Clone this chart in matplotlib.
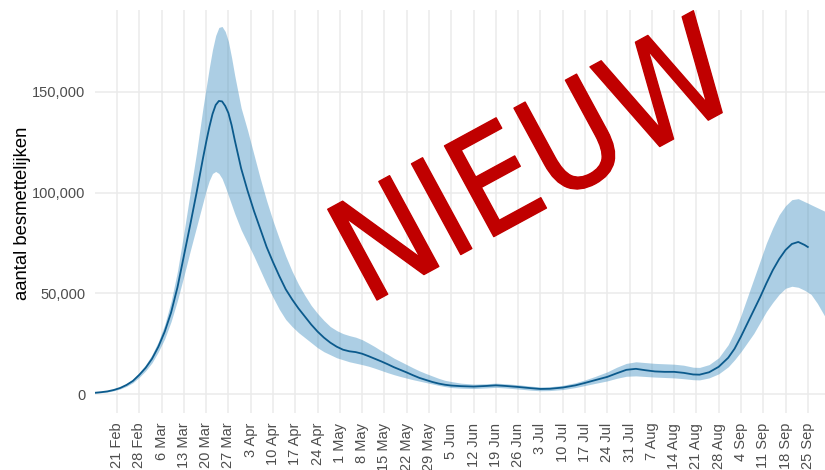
import numpy as np
import pandas as pd
import matplotlib
matplotlib.use("Agg")
import matplotlib.pyplot as plt
import matplotlib.dates as mdates
import matplotlib.patheffects as pe

nan = np.nan

# ---- data ----
dates = (
    ["2020-02-%02d" % d for d in [14, 16, 18, 20, 22, 24, 26, 28]]
    + ["2020-03-%02d" % d for d in [1, 3, 5, 7, 9, 11, 13, 15, 17, 19, 20, 21, 22, 23,
                                     24, 25, 26, 27, 28, 29, 31]]
    + ["2020-04-%02d" % d for d in [2, 4, 6, 8, 10, 12, 14, 16, 18, 20, 22, 24, 26, 28, 30]]
    + ["2020-05-%02d" % d for d in [2, 4, 6, 8, 10, 12, 14, 16, 18, 20, 22, 24, 26, 28, 30]]
    + ["2020-06-%02d" % d for d in [1, 3, 5, 8, 12, 16, 19, 22, 26, 30]]
    + ["2020-07-%02d" % d for d in [3, 6, 10, 14, 17, 20, 24, 27, 30]]
    + ["2020-08-%02d" % d for d in [2, 5, 8, 11, 14, 17, 20, 22, 25, 28, 31]]
    + ["2020-09-%02d" % d for d in [2, 4, 6, 8, 10, 12, 14, 16, 18, 20, 22, 24, 25, 26, 28, 30]]
    + ["2020-10-02"]
)

estimate = [
    600, 900, 1300, 2000, 3000, 4500, 6500, 9500,
    13000, 17500, 23500, 31000, 40500, 53000, 68500, 84000, 100000, 117000, 125000,
    132500, 139000, 143500, 145500, 145300, 143000, 139500, 133500, 126000, 112000,
    101000, 91000, 82000, 73000, 65500, 58500, 52000, 47000, 42500, 38500, 34500,
    31000, 28000, 25500, 23500,
    22000, 21200, 20800, 20000, 18800, 17500, 16200, 14800, 13300, 12000, 10700,
    9300, 8000, 7000, 6000,
    5200, 4600, 4200, 3900, 3700, 4000, 4300, 4000, 3500, 2900,
    2500, 2600, 3200, 4300, 5500, 6800, 8500, 10300, 12000,
    12500, 11800, 11200, 11000, 11000, 10500, 9700, 9600, 10800, 13500, 18000,
    22500, 28500, 35000, 41500, 48000, 55000, 61500, 67000, 71500, 74500, 75500,
    74000, 73000, nan, nan, nan,
    nan,
]

lower = [
    400, 650, 1000, 1600, 2500, 3800, 5600, 8300,
    11500, 15500, 21000, 27500, 36000, 46500, 58500, 71000, 83000, 95000, 101000,
    106000, 109500, 110500, 109500, 107000, 103000, 98500, 94000, 89500, 81500,
    75000, 68500, 61500, 54500, 48000, 42000, 37000, 33500, 30500, 28000, 25500,
    23000, 21000, 19500, 18000,
    17000, 16000, 15300, 14600, 13800, 12800, 11700, 10600, 9600, 8700, 7900,
    7100, 6400, 5700, 5000,
    4300, 3700, 3200, 2900, 2700, 3000, 3300, 3000, 2500, 1900,
    1600, 1700, 2200, 3200, 4200, 5200, 6500, 7800, 8800,
    9000, 8700, 8400, 8200, 8000, 7600, 7100, 7000, 8000, 10000, 13500,
    17000, 21000, 25500, 30000, 35500, 41000, 45500, 49500, 52500, 53500, 53000,
    51500, 50500, 49500, 45000, 39500,
    34000,
]

upper = [
    800, 1150, 1600, 2400, 3500, 5200, 7400, 10700,
    14500, 19500, 26000, 34500, 46000, 61000, 80000, 100000, 120000, 142000, 152000,
    162000, 171000, 178000, 182000, 182500, 180000, 175000, 167000, 158000, 142000,
    131000, 119000, 107000, 96000, 86000, 77000, 68500, 61000, 54500, 49000, 44000,
    40000, 36500, 33500, 31500,
    30000, 29000, 28200, 27000, 25300, 23500, 21500, 19700, 17800, 16200, 14600,
    13000, 11500, 10200, 9000,
    7800, 6800, 6200, 5400, 4900, 5100, 5400, 5100, 4600, 3900,
    3500, 3600, 4300, 5600, 7000, 8600, 11000, 13300, 15200,
    16000, 15600, 15200, 15000, 14800, 14300, 13300, 13200, 14600, 18000, 24500,
    31000, 39000, 48000, 57000, 66000, 75000, 82500, 89000, 93500, 96500, 97000,
    95500, 94800, 94000, 92500, 91000,
    89500,
]

y_ticks = [0, 50000, 100000, 150000]
y_tick_labels = ["0", "50,000", "100,000", "150,000"]
tick_dates = pd.date_range("2020-02-21", "2020-09-25", freq="7D")
tick_labels = [f"{d.day} {d.strftime('%b')}" for d in tick_dates]
y_label = "aantal besmettelijken"
stamp = "NIEUW"

# ---- figure ----
plt.rcParams['font.family'] = ['Liberation Sans', 'DejaVu Sans']
W, H = 825, 470
fig = plt.figure(figsize=(W / 100, H / 100), dpi=100)
ax = fig.add_axes([95 / W, 57 / H, 730 / W, 403 / H])

x = pd.to_datetime(dates)
ax.fill_between(x, lower, upper, color="#3a8cbf", alpha=0.42, linewidth=0, zorder=2)
ax.plot(x, estimate, color="#0b5a8c", linewidth=1.3, zorder=3)

x0 = mdates.date2num(pd.Timestamp("2020-02-21")) - 6.91
x1 = mdates.date2num(pd.Timestamp("2020-02-21")) + 222.4
ax.set_xlim(x0, x1)
ax.set_ylim(-9434, 190670)

ax.set_xticks(tick_dates)
ax.set_xticklabels(tick_labels, rotation=90, fontsize=10.5, color="#4d4d4d")
ax.set_yticks(y_ticks)
ax.set_yticklabels(y_tick_labels, fontsize=10.5, color="#4d4d4d")
ax.tick_params(axis="both", length=0)
ax.tick_params(axis="x", pad=7)
ax.tick_params(axis="y", pad=7)

ax.grid(True, color="#ebebeb", linewidth=1.1, zorder=0)
ax.set_axisbelow(True)
for s in ax.spines.values():
    s.set_visible(False)

fig.text(23 / W, 1 - 213 / H, y_label, rotation=90, fontsize=13.3,
         color="black", ha="center", va="center")

fig.text(366 / W, 1 - 306 / H, stamp, rotation=28.5, rotation_mode="anchor",
         ha="left", va="baseline", fontsize=102, color="#c00000",
         family=["DejaVu Sans"], fontstretch="condensed", fontweight="normal",
         zorder=10,
         path_effects=[pe.withStroke(linewidth=1.0, foreground="#c00000",
                                     joinstyle="round", capstyle="round")])

fig.savefig("out.png", dpi=100)
